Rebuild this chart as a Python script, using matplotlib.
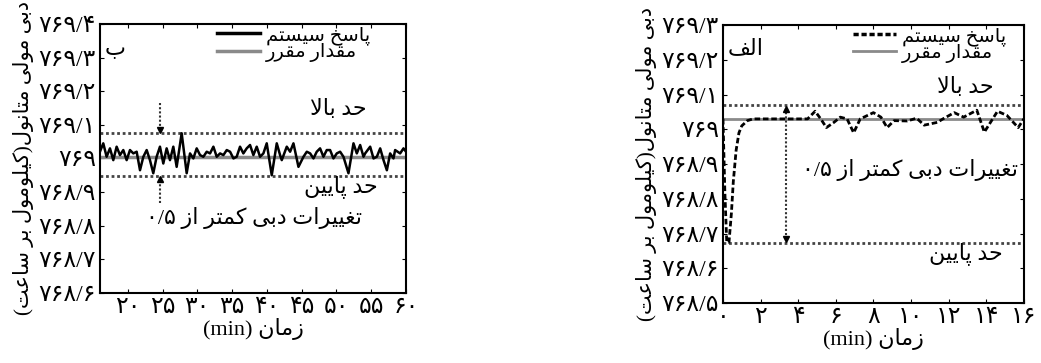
import numpy as np
import matplotlib
matplotlib.use("Agg")
import matplotlib.pyplot as plt
from matplotlib.lines import Line2D

plt.rcParams['font.family'] = ['Liberation Serif', 'DejaVu Sans']

# --- Persian text shaping (matplotlib has no RTL / joining support) ---
FORMS = {
    'ا': ('\uFE8D', '\uFE8E'), 'د': ('\uFEA9', '\uFEAA'), 'ر': ('\uFEAD', '\uFEAE'),
    'ز': ('\uFEAF', '\uFEB0'), 'و': ('\uFEED', '\uFEEE'),
    'ب': ('\uFE8F', '\uFE90', '\uFE91', '\uFE92'), 'پ': ('\uFB56', '\uFB57', '\uFB58', '\uFB59'),
    'ت': ('\uFE95', '\uFE96', '\uFE97', '\uFE98'), 'ح': ('\uFEA1', '\uFEA2', '\uFEA3', '\uFEA4'),
    'خ': ('\uFEA5', '\uFEA6', '\uFEA7', '\uFEA8'), 'س': ('\uFEB1', '\uFEB2', '\uFEB3', '\uFEB4'),
    'ع': ('\uFEC9', '\uFECA', '\uFECB', '\uFECC'), 'غ': ('\uFECD', '\uFECE', '\uFECF', '\uFED0'),
    'ف': ('\uFED1', '\uFED2', '\uFED3', '\uFED4'), 'ق': ('\uFED5', '\uFED6', '\uFED7', '\uFED8'),
    'ک': ('\uFB8E', '\uFB8F', '\uFB90', '\uFB91'), 'ل': ('\uFEDD', '\uFEDE', '\uFEDF', '\uFEE0'),
    'م': ('\uFEE1', '\uFEE2', '\uFEE3', '\uFEE4'), 'ن': ('\uFEE5', '\uFEE6', '\uFEE7', '\uFEE8'),
    'ی': ('\uFBFC', '\uFBFD', '\uFBFE', '\uFBFF'),
}

def fa(s):
    out = []
    i, n = 0, len(s)
    while i < n:
        c = s[i]
        if c not in FORMS:
            out.append(c); i += 1; continue
        prev = s[i-1] if i > 0 else ''
        jp = prev in FORMS and len(FORMS[prev]) == 4
        if c == 'ل' and i + 1 < n and s[i+1] == 'ا':
            out.append('\uFEFC' if jp else '\uFEFB'); i += 2; continue
        nxt = s[i+1] if i + 1 < n else ''
        jn = len(FORMS[c]) == 4 and nxt in FORMS
        f = FORMS[c]
        if jp and jn: g = f[3]
        elif jp: g = f[1]
        elif jn: g = f[2]
        else: g = f[0]
        out.append(g); i += 1
    return ''.join(reversed(out)).translate(str.maketrans('()', ')('))

# --- datos panel ب (izquierda) ---
xb = [16.0, 16.48, 16.96, 17.44, 17.92, 18.40, 18.88, 19.36, 19.84, 20.32, 20.80, 21.28,
      21.76, 22.24, 22.72, 23.19, 23.67, 24.15, 24.63, 25.11, 25.59, 26.07, 26.55, 27.03,
      27.75, 28.47, 28.95, 29.43, 29.91, 30.39, 30.87, 31.35, 31.83, 32.31, 32.79, 33.27,
      33.75, 34.23, 34.71, 35.19, 35.66, 36.14, 36.62, 37.10, 37.58, 38.06, 38.54, 39.02,
      39.50, 39.98, 40.70, 41.42, 41.90, 42.14, 42.86, 43.34, 43.82, 44.54, 45.26, 45.74,
      46.22, 46.70, 47.17, 47.65, 48.13, 48.61, 49.09, 49.57, 50.05, 50.53, 51.01, 51.73,
      52.45, 52.93, 53.41, 53.89, 54.13, 54.85, 55.33, 55.81, 56.29, 56.77, 57.25, 57.72,
      58.20, 58.44, 59.16, 59.64, 60.0]
yb = [769.020, 769.045, 769.005, 769.030, 768.995, 769.035, 769.010, 769.025, 768.995, 769.025,
      769.015, 769.020, 768.965, 769.005, 769.025, 768.995, 768.956, 769.005, 769.035, 768.985,
      769.030, 768.995, 769.035, 768.975, 769.075, 768.956, 769.015, 769.000, 769.030, 769.010,
      769.005, 769.020, 769.015, 769.035, 769.005, 769.015, 769.010, 769.025, 769.020, 769.000,
      769.005, 769.035, 769.015, 769.030, 769.040, 769.010, 769.035, 769.005, 769.015, 769.045,
      768.950, 769.045, 769.010, 768.995, 769.035, 769.020, 769.045, 768.975, 769.005, 769.020,
      769.015, 769.000, 769.020, 769.030, 769.005, 769.025, 769.025, 769.000, 769.015, 769.020,
      769.005, 768.956, 769.045, 769.015, 769.040, 769.005, 769.015, 769.035, 769.000, 769.005,
      769.030, 768.995, 768.965, 769.015, 769.000, 769.025, 769.015, 769.030, 769.020]
sp_b, up_b, lo_b = 769.005, 769.077, 768.948

# --- datos panel الف (derecha) ---
xa = [0.00, 0.10, 0.20, 0.32, 0.45, 0.55, 0.70, 0.85, 1.00, 1.30, 1.60, 3.00, 4.50, 4.90,
      5.20, 5.50, 5.90, 6.24, 6.60, 6.95, 7.30, 8.00, 8.40, 8.73, 9.10, 9.80, 10.30, 10.70,
      11.40, 11.70, 12.30, 12.80, 13.50, 13.90, 14.60, 15.10, 15.70, 16.00]
ya = [769.030, 768.820, 768.675, 768.675, 768.760, 768.850, 768.940, 768.990, 769.010, 769.025,
      769.030, 769.030, 769.030, 769.052, 769.030, 769.005, 769.020, 769.035, 769.030, 768.990,
      769.030, 769.048, 769.035, 769.005, 769.025, 769.024, 769.032, 769.012, 769.020, 769.030,
      769.048, 769.035, 769.055, 768.992, 769.052, 769.040, 769.005, 769.030]
sp_a, up_a, lo_a = 769.030, 769.070, 768.673

# ticks
yt_b = [768.6, 768.7, 768.8, 768.9, 769.0, 769.1, 769.2, 769.3, 769.4]
ytl_b = ['۷۶۸/۶', '۷۶۸/۷', '۷۶۸/۸', '۷۶۸/۹', '۷۶۹', '۷۶۹/۱', '۷۶۹/۲', '۷۶۹/۳', '۷۶۹/۴']
xt_b = [20, 25, 30, 35, 40, 45, 50, 55, 60]
xtl_b = ['۲۰', '۲۵', '۳۰', '۳۵', '۴۰', '۴۵', '۵۰', '۵۵', '۶۰']
yt_a = [768.5, 768.6, 768.7, 768.8, 768.9, 769.0, 769.1, 769.2, 769.3]
ytl_a = ['۷۶۸/۵', '۷۶۸/۶', '۷۶۸/۷', '۷۶۸/۸', '۷۶۸/۹', '۷۶۹', '۷۶۹/۱', '۷۶۹/۲', '۷۶۹/۳']
xt_a = [0, 2, 4, 6, 8, 10, 12, 14, 16]
xtl_a = ['۰', '۲', '۴', '۶', '۸', '۱۰', '۱۲', '۱۴', '۱۶']

ylab = fa('دبی مولی متانول(کیلومول بر ساعت)')
xlab = '(min) ' + fa('زمان')
t_resp, t_sp = fa('پاسخ سیستم'), fa('مقدار مقرر')
t_up, t_lo = fa('حد بالا'), fa('حد پایین')
t_var = '۰/۵ ' + fa('تغییرات دبی کمتر از')

gris = '#8a8a8a'
dots = (0, (1, 1))
fs_tk = 17   # etiquetas de ejes
fs_tx = 16   # textos dentro
fs_lb = 15
fs_lg = 14

fig = plt.figure(figsize=(10.41, 3.63), dpi=100)
ax1 = fig.add_axes([0.096, 0.193, 0.294, 0.741])
ax2 = fig.add_axes([0.6945, 0.165, 0.289, 0.766])

# ---- panel ب ----
ax1.axhline(sp_b, color=gris, lw=2.5)
ax1.axhline(up_b, color='#444', lw=2, ls=dots)
ax1.axhline(lo_b, color='#444', lw=2, ls=dots)
ax1.plot(xb, yb, '-', color='k', lw=1.8)
ax1.plot([24.6, 24.6], [769.165, up_b + 0.006], ls=dots, color='#333', lw=1.5)
ax1.plot([24.6], [up_b + 0.008], 'v', color='k', ms=5)
ax1.plot([24.6, 24.6], [768.867, lo_b - 0.006], ls=dots, color='#333', lw=1.5)
ax1.plot([24.6], [lo_b - 0.008], '^', color='k', ms=5)
ax1.set_xlim(16, 60); ax1.set_ylim(768.6, 769.4)
ax1.set_xticks(xt_b, xtl_b, fontsize=fs_tk)
ax1.set_yticks(yt_b, ytl_b, fontsize=fs_tk)
ax1.set_xlabel(xlab, fontsize=fs_tx, labelpad=0)
ax1.set_ylabel(ylab, fontsize=fs_lb, labelpad=3)
ax1.text(18.2, 769.32, fa('ب'), fontsize=fs_tx, ha='center', va='center')
ax1.text(54.4, 769.144, t_up, fontsize=fs_tx, ha='right', va='center')
ax1.text(55.9, 768.915, t_lo, fontsize=fs_tx, ha='right', va='center')
ax1.text(53.7, 768.823, t_var, fontsize=fs_tx, ha='right', va='center')
h1 = [Line2D([], [], color='k', lw=2.5), Line2D([], [], color=gris, lw=2.5)]
ax1.legend(h1, [t_resp, t_sp], loc='upper right', bbox_to_anchor=(0.92, 1.035),
           frameon=False, fontsize=fs_lg, handlelength=2.2, handletextpad=0.3,
           labelspacing=-0.08, borderaxespad=0.2)

# ---- panel الف ----
ax2.axhline(sp_a, color=gris, lw=2)
ax2.axhline(up_a, color='#444', lw=2, ls=dots)
ax2.axhline(lo_a, color='#444', lw=2, ls=dots)
ax2.plot(xa, ya, color='k', lw=2, ls=(0, (2, 1)))
ax2.plot([3.36, 3.36], [up_a - 0.01, lo_a + 0.01], ls=dots, color='#333', lw=1.5)
ax2.plot([3.36], [up_a - 0.012], '^', color='k', ms=5)
ax2.plot([3.36], [lo_a + 0.012], 'v', color='k', ms=5)
ax2.set_xlim(0, 16); ax2.set_ylim(768.5, 769.3)
ax2.set_xticks(xt_a, xtl_a, fontsize=fs_tk)
ax2.set_yticks(yt_a, ytl_a, fontsize=fs_tk)
ax2.set_xlabel(xlab, fontsize=fs_tx, labelpad=0)
ax2.set_ylabel(ylab, fontsize=fs_lb, labelpad=3)
ax2.text(1.2, 769.228, fa('الف'), fontsize=fs_tx, ha='center', va='center')
ax2.text(14.4, 769.12, t_up, fontsize=fs_tx, ha='right', va='center')
ax2.text(14.9, 768.644, t_lo, fontsize=fs_tx, ha='right', va='center')
ax2.text(15.7, 768.883, t_var, fontsize=fs_tx, ha='right', va='center')
h2 = [Line2D([], [], color='k', lw=2.5, ls=(0, (1.5, 0.8))), Line2D([], [], color=gris, lw=2)]
ax2.legend(h2, [t_resp, t_sp], loc='upper right', bbox_to_anchor=(0.98, 1.035),
           frameon=False, fontsize=fs_lg, handlelength=2.2, handletextpad=0.3,
           labelspacing=-0.08, borderaxespad=0.2)

for ax in (ax1, ax2):
    ax.tick_params(direction='in', length=3, top=True, right=True, pad=3)
    for s in ax.spines.values():
        s.set_linewidth(1.5)

fig.savefig("out.png", dpi=100)
